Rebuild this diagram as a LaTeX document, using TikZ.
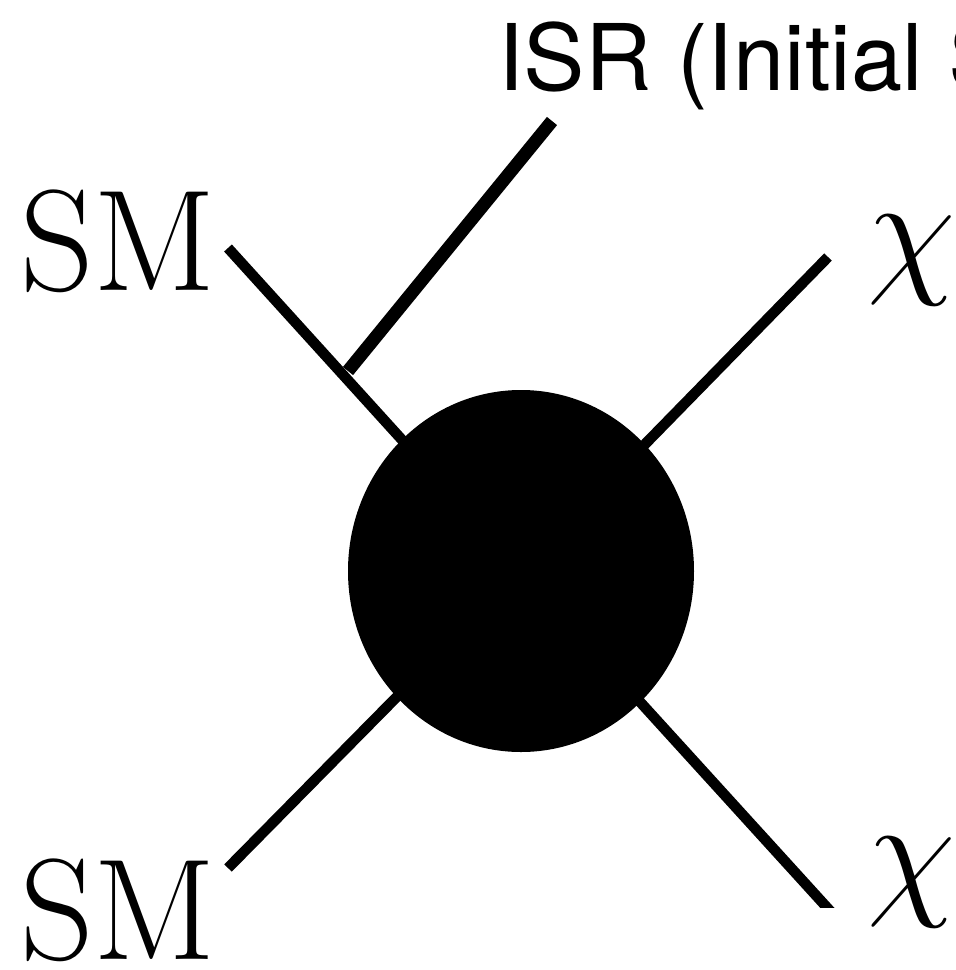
\documentclass[tikz,border=0pt]{standalone}
\usepackage{fontspec}
\newfontfamily\herosfont{TeX Gyre Heros}
\usetikzlibrary{shapes.geometric}
\tikzset{
  leg/.style={line width=5.25pt, line cap=butt},
  isrline/.style={line width=6.5pt, line cap=butt},
  blob/.style={ellipse, fill=black, inner sep=0pt, outer sep=0pt, minimum width=173pt, minimum height=181pt},
  lbl/.style={inner sep=0pt, anchor=base west, font=\fontsize{72}{80}\selectfont},
  chilbl/.style={inner sep=0pt, anchor=base west, font=\fontsize{24.88}{30}\selectfont, scale=2.894},
  isrlbl/.style={inner sep=0pt, anchor=base west, font=\herosfont\fontsize{46}{52}\selectfont},
}
\begin{document}
\begin{tikzpicture}[x=0.5pt, y=-0.5pt]
  \useasboundingbox (0,0) rectangle (956,970);
  % free ends
  \coordinate (ctr) at (521,571);
  \coordinate (tl) at (228,248);
  \coordinate (tr) at (828,257);
  \coordinate (bl) at (228,868);
  \coordinate (br) at (842,924);
  \coordinate (isrA) at (348,371);
  \coordinate (isrB) at (552,121);
  % legs
  \draw[leg] (tl) -- (ctr);
  \draw[leg] (tr) -- (ctr);
  \draw[leg] (bl) -- (ctr);
  \begin{scope}
    \clip (0,0) rectangle (956,907);
    \draw[leg] (br) -- (ctr);
  \end{scope}
  \draw[isrline] (isrA) -- (isrB);
  % blob
  \node[blob] (b) at (ctr) {};
  % labels
  \node[lbl] (sm1) at (20,290) {SM};
  \node[lbl] (sm2) at (20,959) {SM};
  \node[chilbl] (chi1) at (866,277) {$\chi$};
  \node[chilbl] (chi2) at (866,899) {$\chi$};
  \node[isrlbl] (isr) at (498,90) {ISR (Initial State Radiation)};
\end{tikzpicture}
\end{document}
